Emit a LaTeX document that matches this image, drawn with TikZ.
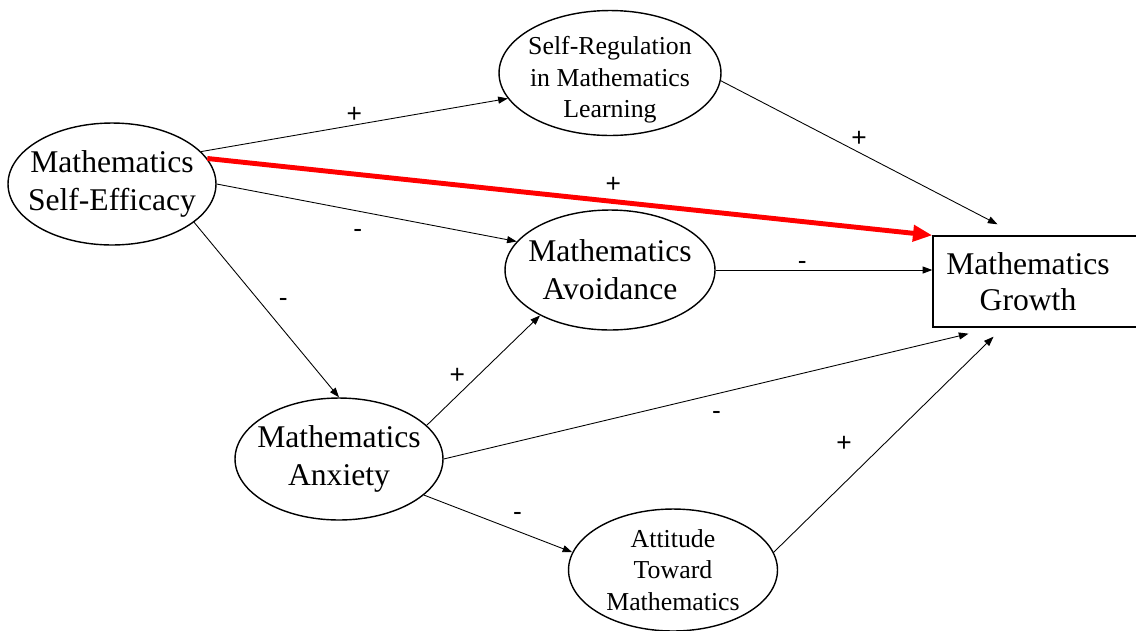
\documentclass[tikz,border=0pt]{standalone}
\usepackage{fontspec}
\setmainfont{Liberation Serif}
\newfontfamily\signfont{Liberation Sans}
\usetikzlibrary{shapes.geometric, arrows.meta}
\definecolor{pathred}{HTML}{FF0000}

\begin{document}
\begin{tikzpicture}[x=0.02cm, y=-0.02cm,
    big/.style={ellipse, draw, line width=0.8pt, inner sep=-6pt, minimum width=4.16cm,
                minimum height=2.44cm, align=center, font=\fontsize{18}{21.5}\selectfont},
    small/.style={ellipse, draw, line width=0.8pt, inner sep=-6pt, minimum width=4.44cm,
                minimum height=2.5cm, align=center, font=\fontsize{14.7}{18}\selectfont},
    arr/.style={line width=0.5pt, -{Triangle[length=5.5pt, width=4pt]}},
    sgn/.style={font=\signfont\fontsize{15}{15}\selectfont, inner sep=1pt}]
    \useasboundingbox (0,0) rectangle (1136,630);
    \node[big] (se) at (112,184) {Mathematics\\Self-Efficacy};
    \node[small] (sr) at (610,73) {\rule{0pt}{18pt}Self-Regulation\\in Mathematics\\Learning};
    \node[big, minimum width=4.2cm, minimum height=2.4cm] (av) at (610,270) {Mathematics\\Avoidance};
    \node[big] (ax) at (339,459) {Mathematics\\Anxiety};
    \node[small, minimum width=4.18cm, minimum height=2.44cm] (at) at (673,570)
      {Attitude\\Toward\\Mathematics};
    \node[draw, line width=0.8pt, minimum width=4.26cm, minimum height=1.82cm, align=center,
          font=\fontsize{18}{20.6}\selectfont] (gr) at (1039.5,281.5)
      {Mathematics\hspace*{0.46cm}\\Growth\hspace*{0.46cm}};
    \draw[arr] (se.20) -- (sr.194) node[sgn, midway, above] {+};
    \draw[pathred, line width=2.8pt, -{Triangle[length=11pt, width=9pt]}] (se.15) -- (gr.north west)
      node[sgn, pos=.56, above=3pt, text=black] {+};
    \draw[arr] (se.0) -- (av.163) node[sgn, pos=.47, below=9pt] {-};
    \draw[arr] (se.335) -- (ax.north) node[sgn, pos=.46, right=9pt] {-};
    \draw[arr] (sr.356) -- ([xshift=-0.84cm, yshift=0.22cm]gr.north) node[sgn, midway, above=2pt] {+};
    \draw[arr] (av.east) -- (gr.west |- av.east) node[sgn, pos=.4, above=-1pt] {-};
    \draw[arr] (ax.21) -- (av.213) node[sgn, pos=.45, left=6pt] {+};
    \draw[arr] (ax.east) -- ([xshift=-1.42cm, yshift=-0.12cm]gr.south) node[sgn, pos=.52, below=9pt] {-};
    \draw[arr] (ax.337) -- (at.170) node[sgn, pos=.63, above=5pt] {-};
    \draw[arr] (at.10) -- ([xshift=-0.92cm, yshift=-0.18cm]gr.south) node[sgn, pos=.32, above=17pt] {+};
\end{tikzpicture}
\end{document}
